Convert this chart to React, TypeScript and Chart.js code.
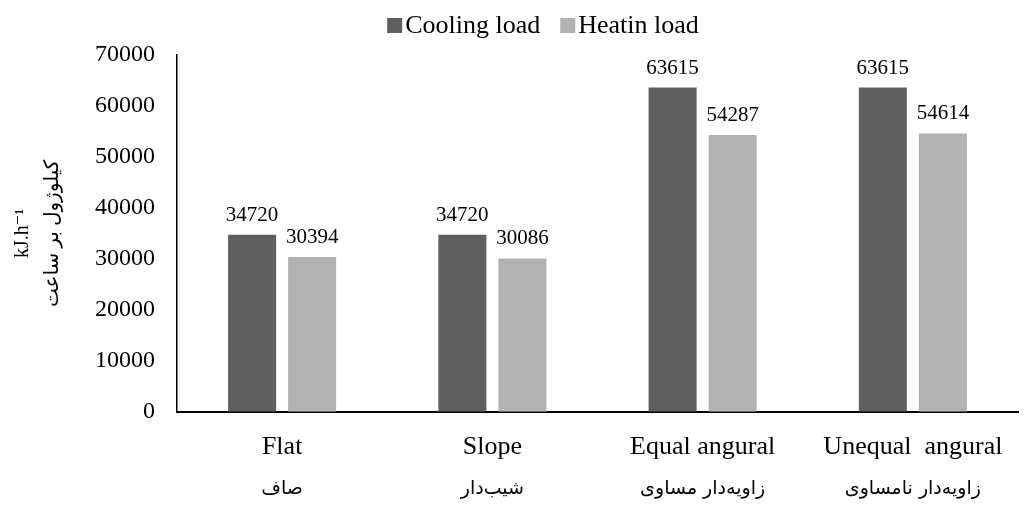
import React, { useEffect, useRef } from "react";
import { Chart, registerables } from "chart.js";

Chart.register(...registerables);

const categoriesEn = ["Flat", "Slope", "Equal angural", "Unequal  angural"];
const categoriesFa = ["صاف", "شیب‌دار", "زاویه‌دار مساوی", "زاویه‌دار نامساوی"];
const coolingLoad = [34720, 34720, 63615, 63615];
const heatingLoad = [30394, 30086, 54287, 54614];
const seriesNames = ["Cooling load", "Heatin load"];
const seriesColors = ["#5f5f5f", "#b2b2b2"];
const yTitle = ["kJ.h⁻¹", "کیلوژول بر ساعت"];

const SERIF = "'Liberation Serif', 'Times New Roman', serif";
const FA = "'DejaVu Sans', sans-serif";

const valueLabels = {
  id: "valueLabels",
  afterDatasetsDraw(chart: any) {
    const ctx = chart.ctx;
    ctx.save();
    ctx.font = `21px ${SERIF}`;
    ctx.fillStyle = "#000";
    ctx.textAlign = "center";
    ctx.textBaseline = "alphabetic";
    chart.data.datasets.forEach((ds: any, i: number) => {
      const meta = chart.getDatasetMeta(i);
      meta.data.forEach((bar: any, j: number) => {
        ctx.fillText(String(ds.data[j]), bar.x, bar.y - 14);
      });
    });
    ctx.restore();
  },
};

const persianLabels = {
  id: "persianLabels",
  afterDraw(chart: any) {
    const ctx = chart.ctx;
    const xs = chart.scales.x;
    ctx.save();
    ctx.font = `19px ${FA}`;
    ctx.fillStyle = "#000";
    ctx.textAlign = "center";
    ctx.textBaseline = "middle";
    categoriesFa.forEach((t, i) => {
      ctx.fillText(t, xs.getPixelForTick(i), 489);
    });
    ctx.restore();
  },
};

const customLegend = {
  id: "customLegend",
  afterDraw(chart: any) {
    const ctx = chart.ctx;
    ctx.save();
    ctx.font = `26px ${SERIF}`;
    ctx.textBaseline = "alphabetic";
    ctx.textAlign = "left";
    const box = 15;
    const gap = 3;
    const spacing = 20;
    const widths = seriesNames.map((n) => ctx.measureText(n).width);
    const total = widths.reduce((a, w) => a + box + gap + w, 0) + spacing;
    let x = 543 - total / 2;
    seriesNames.forEach((n, i) => {
      ctx.fillStyle = seriesColors[i];
      ctx.fillRect(x, 18, box, box);
      ctx.fillStyle = "#000";
      ctx.fillText(n, x + box + gap, 33);
      x += box + gap + widths[i] + spacing;
    });
    ctx.restore();
  },
};

export default function App() {
  const ref = useRef<HTMLCanvasElement>(null);
  useEffect(() => {
    const chart = new Chart(ref.current!, {
      type: "bar",
      data: {
        labels: categoriesEn,
        datasets: [
          { label: seriesNames[0], data: coolingLoad, backgroundColor: seriesColors[0] },
          { label: seriesNames[1], data: heatingLoad, backgroundColor: seriesColors[1] },
        ],
      },
      options: {
        animation: false,
        responsive: true,
        maintainAspectRatio: false,
        layout: { padding: { left: 8, right: 7, top: 55, bottom: 27 } },
        datasets: { bar: { barPercentage: 0.8, categoryPercentage: 0.571 } },
        plugins: {
          legend: { display: false },
          tooltip: { enabled: false },
        },
        scales: {
          x: {
            grid: { display: false, drawTicks: false },
            border: { color: "#000", width: 2 },
            ticks: {
              color: "#000",
              font: { family: SERIF, size: 26 },
              padding: 20,
              maxRotation: 0,
              autoSkip: false,
            },
          },
          y: {
            min: 0,
            max: 70000,
            grid: { display: false, drawTicks: false },
            border: { color: "#000", width: 1.5 },
            ticks: {
              stepSize: 10000,
              color: "#000",
              font: { family: SERIF, size: 24 },
              padding: 22,
              callback: (v: any) => String(v),
            },
            title: {
              display: true,
              text: yTitle,
              color: "#000",
              font: { family: `${SERIF.split(",")[0]}, ${FA}`, size: 20, lineHeight: 1.5 },
              padding: { top: 0, bottom: 5 },
            },
          },
        },
      },
      plugins: [valueLabels, persianLabels, customLegend],
    });
    return () => chart.destroy();
  }, []);
  return (
    <div style={{ position: "fixed", left: 0, top: 0, width: 1025, height: 510 }}>
      <canvas ref={ref} />
    </div>
  );
}
